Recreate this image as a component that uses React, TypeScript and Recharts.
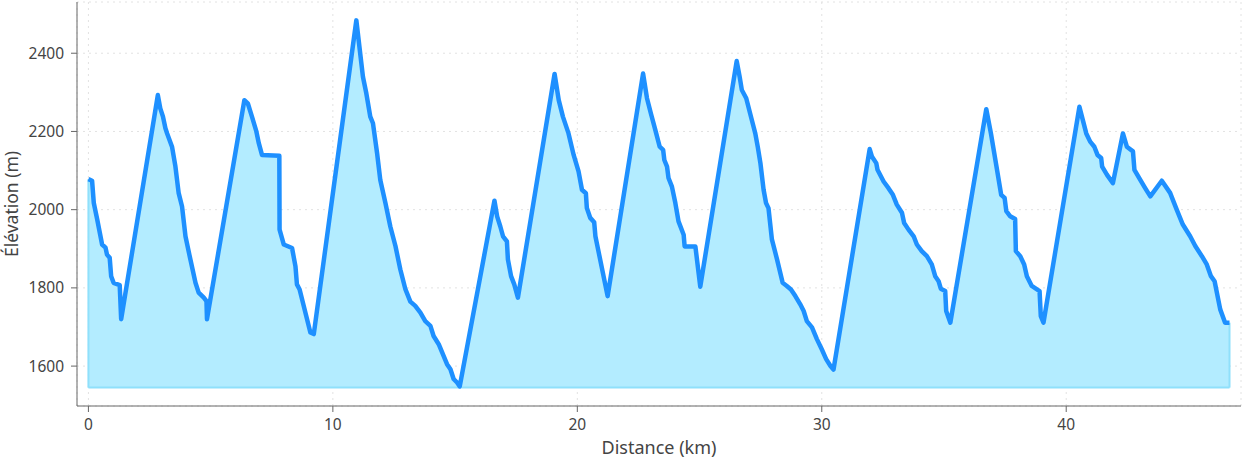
import {
  ComposedChart,
  Area,
  Line,
  XAxis,
  YAxis,
  CartesianGrid,
  ReferenceLine,
} from "recharts";

const distanceKm = [
  0, 0.15, 0.22, 0.36, 0.56, 0.7, 0.76, 0.87, 0.93, 1.03, 1.28, 1.34, 2.84, 2.94, 3.05, 3.15,
  3.22, 3.42, 3.56, 3.69, 3.83, 3.97, 4.17, 4.38, 4.51, 4.72, 4.83, 4.85, 6.38, 6.52, 6.69,
  6.87, 6.97, 7.1, 7.81, 7.82, 7.99, 8.33, 8.47, 8.53, 8.64, 9.08, 9.22, 10.96, 11.23, 11.37,
  11.53, 11.64, 11.81, 11.94, 12.15, 12.35, 12.56, 12.76, 12.97, 13.17, 13.37, 13.58, 13.78,
  13.99, 14.12, 14.33, 14.53, 14.67, 14.81, 14.94, 15.08, 15.19, 16.61, 16.72, 16.85, 16.96,
  17.12, 17.16, 17.29, 17.42, 17.57, 19.07, 19.24, 19.41, 19.64, 19.85, 20.05, 20.19, 20.35,
  20.39, 20.53, 20.69, 20.74, 21.24, 22.69, 22.85, 23.01, 23.19, 23.37, 23.51, 23.56, 23.67,
  23.73, 23.87, 24.01, 24.14, 24.35, 24.39, 24.83, 25.03, 26.52, 26.64, 26.73, 26.91, 27.07,
  27.21, 27.28, 27.38, 27.49, 27.62, 27.72, 27.82, 27.96, 28.17, 28.4, 28.57, 28.74, 28.92,
  29.12, 29.26, 29.39, 29.6, 29.8, 30.0, 30.18, 30.35, 30.48, 31.96, 32.05, 32.23, 32.28,
  32.53, 32.73, 32.91, 33.07, 33.28, 33.37, 33.55, 33.76, 33.89, 34.09, 34.3, 34.5, 34.64,
  34.78, 34.87, 35.05, 35.09, 35.26, 36.73, 36.92, 37.17, 37.34, 37.48, 37.55, 37.71, 37.91,
  37.94, 38.12, 38.28, 38.39, 38.59, 38.91, 38.96, 39.07, 40.54, 40.68, 40.82, 40.98, 41.15,
  41.28, 41.43, 41.47, 41.67, 41.91, 42.32, 42.48, 42.73, 42.79, 43.03, 43.23, 43.44, 43.91,
  44.25, 44.52, 44.77, 45.07, 45.28, 45.55, 45.75, 45.92, 46.07, 46.3, 46.5, 46.68,
];

const elevationM = [
  2078, 2074, 2017, 1975, 1911, 1903, 1885, 1877, 1830, 1813, 1807, 1720, 2293, 2259, 2238, 2208,
  2195, 2161, 2110, 2043, 2008, 1932, 1873, 1813, 1788, 1775, 1766, 1720, 2280, 2272, 2238,
  2200, 2170, 2140, 2138, 1949, 1911, 1902, 1855, 1809, 1796, 1686, 1682, 2484, 2340, 2297,
  2238, 2221, 2144, 2076, 2017, 1957, 1907, 1847, 1796, 1765, 1754, 1737, 1715,
  1703, 1677, 1656, 1626, 1605, 1592, 1567, 1558, 1548, 2023, 1983, 1957, 1932,
  1919, 1873, 1830, 1809, 1775, 2347, 2280, 2238, 2195, 2140, 2098, 2051, 2042,
  2004, 1979, 1968, 1932, 1779, 2348, 2285, 2246, 2204, 2161, 2153, 2127, 2110,
  2081, 2059, 2017, 1970, 1936, 1906, 1906, 1803, 2380, 2340, 2306, 2285, 2246,
  2212, 2195, 2161, 2119, 2051, 2017, 2004, 1924, 1873, 1813, 1805, 1796, 1779,
  1758, 1741, 1715, 1699, 1669, 1643, 1618, 1601, 1591, 2155, 2136, 2119, 2102,
  2072, 2055, 2038, 2013, 1992, 1966, 1949, 1932, 1911, 1894, 1881, 1860, 1830,
  1817, 1798, 1792, 1741, 1711, 2257, 2195, 2102, 2038, 2030, 1996, 1983, 1976,
  1894, 1881, 1860, 1830, 1805, 1792, 1728, 1711, 2263, 2229, 2195, 2174, 2161,
  2140, 2132, 2110, 2089, 2068, 2195, 2161, 2149, 2102, 2076, 2055, 2034, 2074,
  2043, 2000, 1962, 1932, 1907, 1881, 1860, 1830, 1817, 1745, 1711, 1711,
];

const xTicks = [0, 10, 20, 30, 40];
const yTicks = [1600, 1800, 2000, 2200, 2400];
const fillBase = 1545;

const profile = distanceKm.map((d, i) => ({ d, e: elevationM[i] }));

const font = "'Noto Sans', 'Open Sans', sans-serif";
const textColor = "#444";

export default function App() {
  const lastX = distanceKm[distanceKm.length - 1];
  const lastY = elevationM[elevationM.length - 1];
  return (
    <div style={{ position: "absolute", left: 0, top: 0, fontFamily: font }}>
      <ComposedChart
        width={1242}
        height={460}
        data={profile}
        margin={{ top: 2, right: 1, left: 0, bottom: 0 }}
      >
        <CartesianGrid stroke="#e2e2e2" strokeDasharray="2 4" strokeWidth={1} />
        <XAxis
          dataKey="d"
          type="number"
          domain={[-0.467, 47.15]}
          allowDataOverflow
          ticks={xTicks}
          height={54}
          stroke="#666"
          tickSize={6}
          tickMargin={7}
          tick={{ fill: textColor, fontSize: 15.5, fontFamily: font }}
          label={{
            value: "Distance (km)",
            position: "insideBottom",
            offset: 6,
            fill: textColor,
            fontSize: 18,
            fontFamily: font,
          }}
        />
        <YAxis
          type="number"
          domain={[1498, 2531]}
          allowDataOverflow
          ticks={yTicks}
          width={77}
          stroke="#666"
          tickSize={6}
          tickMargin={7}
          tick={{ fill: textColor, fontSize: 15.5, fontFamily: font }}
          label={{
            value: "Élévation (m)",
            angle: -90,
            position: "insideLeft",
            offset: 12,
            fill: textColor,
            fontSize: 17.5,
            fontFamily: font,
            style: { textAnchor: "middle" },
          }}
        />
        <Area
          dataKey="e"
          type="linear"
          baseValue={fillBase}
          fill="#b3ecff"
          fillOpacity={1}
          stroke="none"
          isAnimationActive={false}
        />
        <ReferenceLine
          segment={[
            { x: 0, y: fillBase },
            { x: lastX, y: fillBase },
          ]}
          stroke="#8fe0fb"
          strokeWidth={2}
        />
        <ReferenceLine
          segment={[
            { x: 0, y: fillBase },
            { x: 0, y: elevationM[0] },
          ]}
          stroke="#8fe0fb"
          strokeWidth={2}
        />
        <ReferenceLine
          segment={[
            { x: lastX, y: fillBase },
            { x: lastX, y: lastY },
          ]}
          stroke="#8fe0fb"
          strokeWidth={2}
        />
        <Line
          dataKey="e"
          type="linear"
          stroke="#1e90ff"
          strokeWidth={4.5}
          strokeLinejoin="round"
          dot={false}
          activeDot={false}
          isAnimationActive={false}
        />
      </ComposedChart>
    </div>
  );
}
